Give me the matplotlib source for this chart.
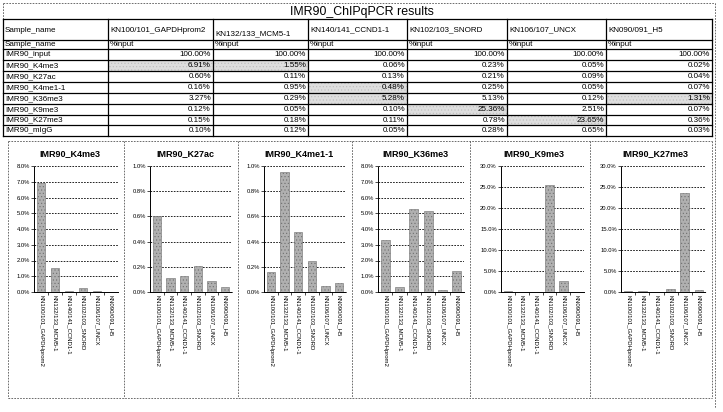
import matplotlib
matplotlib.use("Agg")
import matplotlib.pyplot as plt
from matplotlib.lines import Line2D
from matplotlib.patches import Rectangle
from matplotlib.ticker import FuncFormatter, MultipleLocator

plt.rcParams['font.family'] = ['Liberation Sans', 'DejaVu Sans']
plt.rcParams['hatch.linewidth'] = 0.4

title = "IMR90_ChIPqPCR results"
primers = ['KN100/101_GAPDHprom2', 'KN132/133_MCM5-1', 'KN140/141_CCND1-1',
           'KN102/103_SNORD', 'KN106/107_UNCX', 'KN090/091_H5']
samples = ['IMR90_input', 'IMR90_K4me3', 'IMR90_K27ac', 'IMR90_K4me1-1',
           'IMR90_K36me3', 'IMR90_K9me3', 'IMR90_K27me3', 'IMR90_mIgG']
input_pct = [100.00, 100.00, 100.00, 100.00, 100.00, 100.00]
k4me3 = [6.91, 1.55, 0.06, 0.23, 0.05, 0.02]
k27ac = [0.60, 0.11, 0.13, 0.21, 0.09, 0.04]
k4me1 = [0.16, 0.95, 0.48, 0.25, 0.05, 0.07]
k36me3 = [3.27, 0.29, 5.28, 5.13, 0.12, 1.31]
k9me3 = [0.12, 0.05, 0.10, 25.36, 2.51, 0.07]
k27me3 = [0.15, 0.18, 0.11, 0.78, 23.65, 0.36]
migg = [0.10, 0.12, 0.05, 0.28, 0.65, 0.03]
table_rows = [input_pct, k4me3, k27ac, k4me1, k36me3, k9me3, k27me3, migg]
highlight = [(1, 0), (1, 1), (3, 2), (4, 2), (5, 3), (6, 4), (4, 5)]

chart_titles = ['IMR90_K4me3', 'IMR90_K27ac', 'IMR90_K4me1-1',
                'IMR90_K36me3', 'IMR90_K9me3', 'IMR90_K27me3']
chart_series = [k4me3, k27ac, k4me1, k36me3, k9me3, k27me3]
chart_ymax = [8.0, 1.0, 1.0, 8.0, 30.0, 30.0]
chart_ystep = [1.0, 0.2, 0.2, 1.0, 5.0, 5.0]

W, H = 723, 412
fig = plt.figure(figsize=(W / 100, H / 100), dpi=100)


def fx(x):
    return x / W


def fy(y):
    return 1 - y / H


def line(x0, y0, x1, y1, lw=0.8, ls='-', color='black'):
    fig.add_artist(Line2D([fx(x0), fx(x1)], [fy(y0), fy(y1)], transform=fig.transFigure,
                          lw=lw, ls=ls, color=color))


def text(x, y, s, **kw):
    fig.text(fx(x), fy(y), s, **kw)


# ---------------- table ----------------
col_x = [3, 108, 213, 308, 407, 507, 606, 712]
row_y = [19, 40, 49, 60, 71, 82, 93, 104, 115, 125, 136]
tfs = 5.8

dash = (0, (2, 1.5))
line(3, 3, 715, 3, lw=0.6, ls=dash, color='#555555')
line(3, 3, 3, 19, lw=0.6, ls=dash, color='#555555')
line(715, 3, 715, 408, lw=0.6, ls=dash, color='#555555')
text(362, 11.5, title, ha='center', va='center', fontsize=8.9)

for (r, c) in highlight:
    y0 = row_y[r + 2]
    y1 = row_y[r + 3]
    fig.add_artist(Rectangle((fx(col_x[c + 1]), fy(y1)), fx(col_x[c + 2]) - fx(col_x[c + 1]),
                             fy(y0) - fy(y1), transform=fig.transFigure,
                             facecolor='#dedede', edgecolor='#bdbdbd', hatch='.....', lw=0))

for y in row_y:
    line(col_x[0], y, col_x[-1], y, lw=0.9)
for x in col_x:
    line(x, row_y[0], x, row_y[-1], lw=0.9)

text(col_x[0] + 2, 30, 'Sample_name', ha='left', va='center', fontsize=tfs)
for i, p in enumerate(primers):
    yy = 34 if i == 1 else 30
    text(col_x[i + 1] + 2, yy, p, ha='left', va='center', fontsize=tfs)
text(col_x[0] + 2, (row_y[1] + row_y[2]) / 2, 'Sample_name', ha='left', va='center', fontsize=tfs)
for i in range(len(primers)):
    text(col_x[i + 1] + 2, (row_y[1] + row_y[2]) / 2, '%input', ha='left', va='center', fontsize=tfs)
for r, (s, vals) in enumerate(zip(samples, table_rows)):
    yc = (row_y[r + 2] + row_y[r + 3]) / 2
    text(col_x[0] + 2, yc, s, ha='left', va='center', fontsize=tfs)
    for c, v in enumerate(vals):
        text(col_x[c + 2] - 2, yc, f'{v:.2f}%', ha='right', va='center', fontsize=tfs)

# ---------------- charts ----------------
panels = [8, 124, 238, 352, 470, 590, 712]
ctop, cbot = 141, 398
line(panels[0], ctop, panels[-1], ctop, lw=0.6, ls=dash, color='#555555')
line(panels[0], cbot, panels[-1], cbot, lw=0.6, ls=dash, color='#555555')
for x in panels:
    line(x, ctop, x, cbot, lw=0.6, ls=dash, color='#555555')

ax_top, ax_bot = 166, 292
for i in range(6):
    pl, pr = panels[i], panels[i + 1]
    lpad = 31 if chart_ymax[i] >= 10 else 26
    left = pl + lpad
    right = pr - 6
    ax = fig.add_axes([fx(left), fy(ax_bot), fx(right) - fx(left), fy(ax_top) - fy(ax_bot)])
    xs = list(range(len(primers)))
    ax.bar(xs, chart_series[i], width=0.62, color='#b0b0b0', edgecolor='#6e6e6e',
           hatch='.....', lw=0.4, zorder=3)
    ax.set_xlim(-0.5, len(primers) - 0.5)
    ax.set_ylim(0, chart_ymax[i])
    ax.yaxis.set_major_locator(MultipleLocator(chart_ystep[i]))
    ax.yaxis.set_major_formatter(FuncFormatter(lambda v, p: f'{v:.1f}%'))
    ax.grid(axis='y', color='black', ls=(0, (2, 1.5)), lw=0.6, zorder=0)
    for sp in ['top', 'right']:
        ax.spines[sp].set_visible(False)
    ax.spines['left'].set_linestyle((0, (1.5, 1)))
    ax.spines['bottom'].set_linestyle((0, (1.5, 1)))
    ax.spines['left'].set_linewidth(0.7)
    ax.spines['bottom'].set_linewidth(0.7)
    ax.tick_params(axis='y', labelsize=4.2, length=2, width=0.5, pad=1)
    ax.set_xticks(xs)
    ax.set_xticklabels(primers, rotation=270, fontsize=4.3, va='top', ha='center')
    ax.tick_params(axis='x', length=0, pad=2)
    ax.set_xticks([x + 0.5 for x in xs[:-1]], minor=True)
    ax.tick_params(axis='x', which='minor', length=2, width=0.5)
    ax.set_facecolor('none')
    text((pl + pr) / 2 + 4, 154, chart_titles[i], ha='center', va='center',
         fontsize=6.5, fontweight='bold')

fig.savefig('out.png', dpi=100)
